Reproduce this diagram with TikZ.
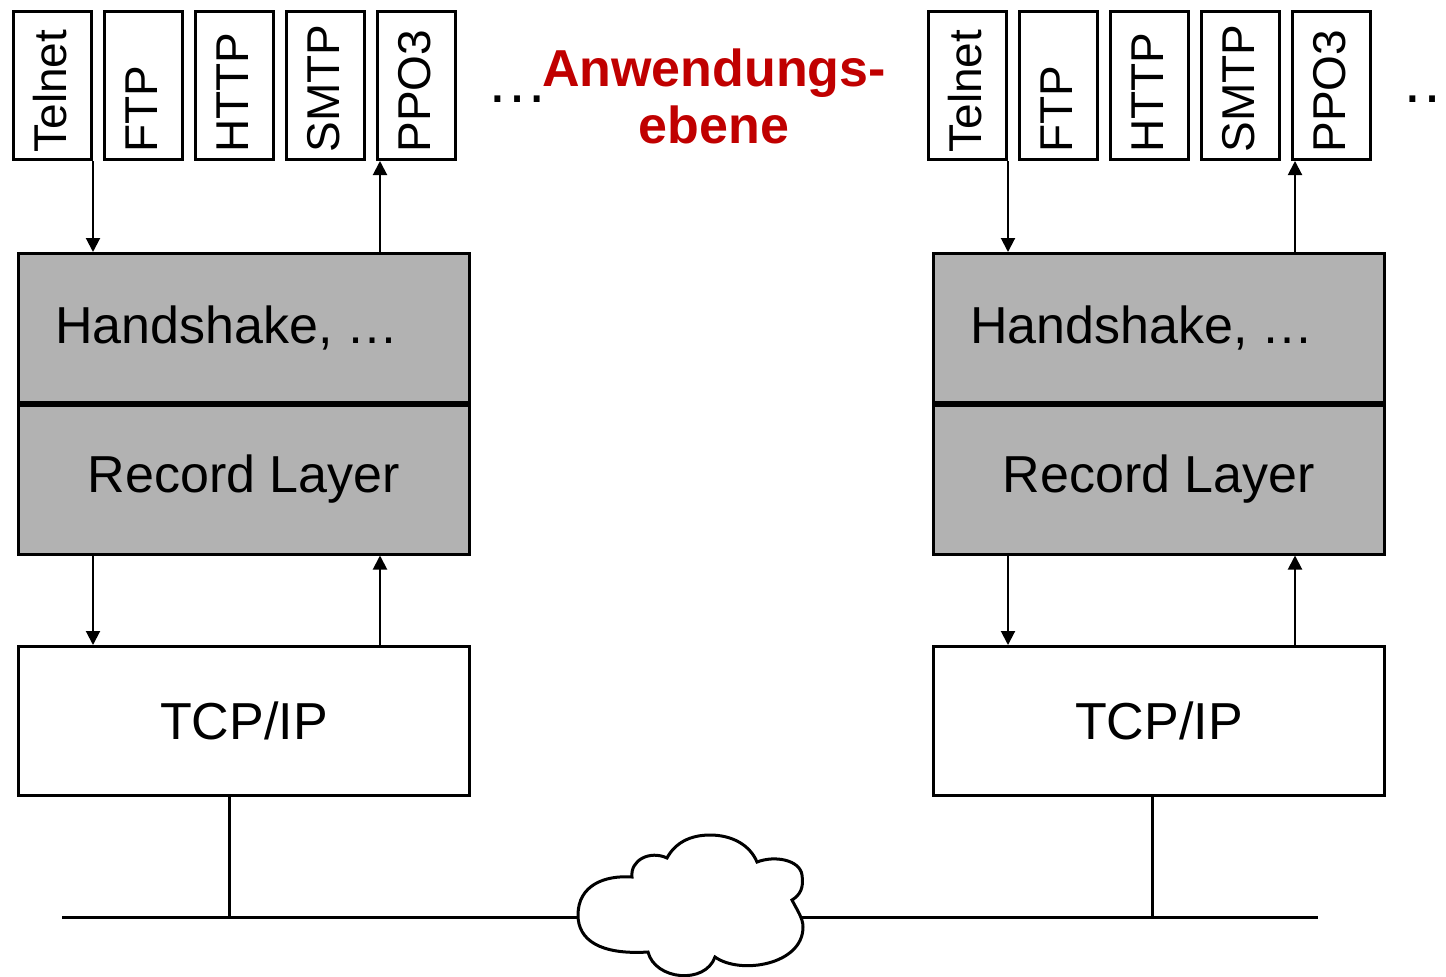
\documentclass[tikz,border=0pt]{standalone}
\usepackage{fontspec}
\setmainfont{Liberation Sans}
\usetikzlibrary{positioning,arrows.meta}
\definecolor{layergray}{RGB}{178,178,178}
\definecolor{ebenered}{RGB}{192,0,0}

\begin{document}
\begin{tikzpicture}[x=0.5pt,y=-0.5pt,
    proto/.style={draw,line width=1.5pt,minimum width=39pt,minimum height=74pt,inner sep=0pt},
    protolabel/.style={rotate=90,anchor=base west,inner sep=0pt,font=\fontsize{23}{23}\selectfont},
    layer/.style={draw,line width=1.5pt,minimum width=225.5pt,minimum height=74.5pt,inner sep=0pt,font=\fontsize{26}{26}\selectfont},
    flow/.style={line width=1pt,-{Triangle[length=7pt,width=7pt]}},
    net/.style={line width=1.5pt},
    more/.style={font=\fontsize{31}{31}\selectfont,anchor=base west,inner sep=0pt}]
    \useasboundingbox (0,0) rectangle (1446,976);

    \foreach \s/\dx/\tapx in {l/0/229,r/915/237}{
        \begin{scope}[shift={(\dx,0)}]
        \foreach \i/\name in {0/Telnet,1/FTP,2/HTTP,3/SMTP,4/PPO3}{
            \node[proto] (\s-p\i) at (52.5+91*\i,85.5) {};
            \node[protolabel] (\s-t\i) at ([xshift=7pt,yshift=4pt]\s-p\i.south) {\name};
        }
        \node[layer,fill=layergray] (\s-hs) at (244,328) {Handshake, …\hspace*{17pt}};
        \node[layer,fill=layergray] (\s-rec) at (244,479.5) {Record Layer};
        \node[layer] (\s-tcp) at (244,721) {TCP/IP};
        \coordinate (\s-dn) at (93,0);
        \coordinate (\s-up) at (380,0);
        \coordinate (\s-tap) at (\tapx,917);
        \end{scope}
        \draw[flow] (\s-dn |- \s-p0.south) -- (\s-dn |- \s-hs.north);
        \draw[flow] (\s-up |- \s-hs.north) -- (\s-up |- \s-p4.south);
        \draw[flow] (\s-dn |- \s-rec.south) -- (\s-dn |- \s-tcp.north);
        \draw[flow] (\s-up |- \s-tcp.north) -- (\s-up |- \s-rec.south);
        \draw[net] (\s-tap |- \s-tcp.south) -- (\s-tap);
    }

    \node[font=\bfseries\fontsize{26}{28.5}\selectfont,text=ebenered,align=center,inner sep=0pt,anchor=north] (ebene) at (714,48) {Anwendungs-\\ebene};
    \node[more] (dots-l) at (486,102) {…};
    \node[more] (dots-r) at (1401,102) {…};

    % network with cloud
    \coordinate (net-w) at (62,917);
    \coordinate (net-e) at (1318,917);
    \draw[net] (net-w) -- (net-e);
    \draw[net,fill=white] (648,952)
        .. controls (600,955) and (578,940) .. (578,915)
        .. controls (578,885) and (605,875) .. (632,877)
        .. controls (630,860) and (650,850) .. (667,858)
        .. controls (675,843) and (690,835) .. (710,835)
        .. controls (732,835) and (750,845) .. (757,862)
        .. controls (775,855) and (800,860) .. (802,875)
        .. controls (804,888) and (800,895) .. (792,900)
        .. controls (797,910) and (803,918) .. (803,927)
        .. controls (803,965) and (740,975) .. (715,957)
        .. controls (705,985) and (655,980) .. cycle;
\end{tikzpicture}
\end{document}
